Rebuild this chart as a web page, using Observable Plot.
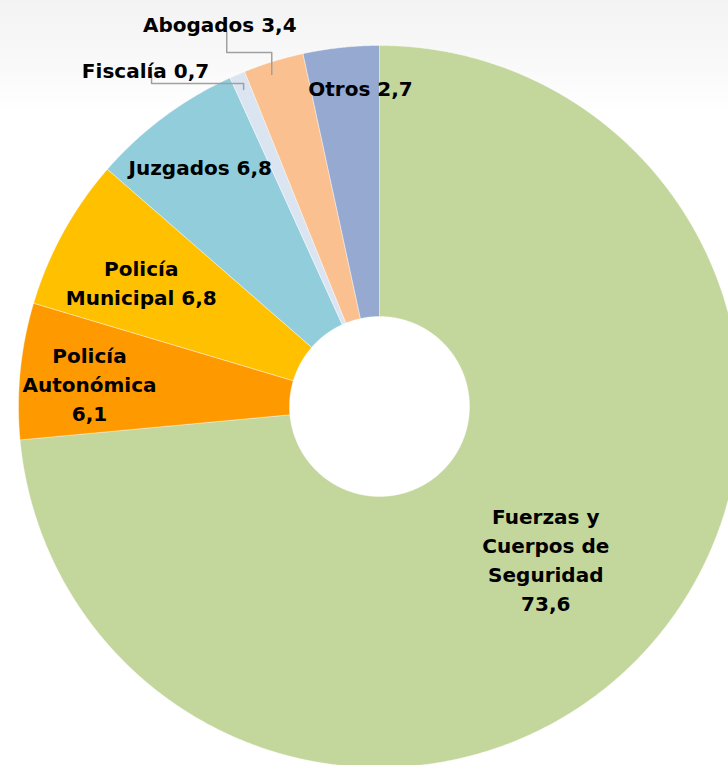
<!DOCTYPE html>
<html><head><meta charset="utf-8">
<script src="https://cdn.jsdelivr.net/npm/d3@7"></script>
<script src="https://cdn.jsdelivr.net/npm/@observablehq/plot@0.6"></script>
<style>
html,body{margin:0;padding:0;}
body{width:728px;height:765px;overflow:hidden;background:linear-gradient(to bottom,#f3f3f3 0px,#f8f8f8 55px,#ffffff 115px,#ffffff 100%);}
#chart svg{display:block;}
</style></head><body><div id="chart"></div>
<script>
// ---- data ----
const categories = ["Fuerzas y\nCuerpos de\nSeguridad", "Policía\nAutonómica", "Policía\nMunicipal", "Juzgados", "Fiscalía", "Abogados", "Otros"];
// numbers printed in the labels
const labelValues = ["73,6", "6,1", "6,8", "6,8", "0,7", "3,4", "2,7"];
const sliceValues = [73.6, 6.1, 6.8, 6.8, 0.7, 2.7, 3.4];
const colors = ["#c3d69b", "#ff9900", "#ffc000", "#92cddc", "#dbe5f1", "#fac090", "#95a9d1"];

// ---- layout (not data) ----
const W = 728, H = 765;
const cx = 379, cy = 406, R = 361, R0 = 90;
const valueSep = ["\n", "\n", " ", " ", " ", " ", " "];
const labelLayout = [
  {rad: 225, dAng: 0},
  {rad: 291, dAng: -1.0},
  {rad: 269, dAng: -1.2},
  {rad: 300, dAng: 0},
  {rad: 411, dAng: -11.5},
  {rad: 416, dAng: -5.5},
  {rad: 320, dAng: 2.7}
];
const leaderLayout = [null, null, null, null,
  {sdx: 6, sdy: 6, edy: 15, endR: 345, endAng: 0},
  {sdx: 7, sdy: 10, edy: 30, endR: 349, endAng: -0.9},
  null];

const names = categories.map(c => c.replace(/\n/g, " "));
const total = d3.sum(sliceValues);
const deg = Math.PI / 180;
const polar = (a, r) => [cx + r * Math.sin(a), cy - r * Math.cos(a)];

// slices as closed polygons
const slicePts = [];
const mids = [];
let acc = 0;
sliceValues.forEach((v, i) => {
  const a0 = acc / total * 2 * Math.PI;
  acc += v;
  const a1 = acc / total * 2 * Math.PI;
  mids.push((a0 + a1) / 2);
  const n = Math.max(2, Math.ceil((a1 - a0) / (0.25 * deg)));
  const pts = [];
  for (let k = 0; k <= n; k++) pts.push(polar(a0 + (a1 - a0) * k / n, R));
  for (let k = n; k >= 0; k--) pts.push(polar(a0 + (a1 - a0) * k / n, R0));
  pts.push(pts[0]);
  pts.forEach(([x, y]) => slicePts.push({key: names[i], x, y}));
});

// labels
const labels = categories.map((c, i) => {
  const L = labelLayout[i];
  const [x, y] = polar(mids[i] + L.dAng * deg, L.rad);
  return {key: names[i], x, y, text: c + valueSep[i] + labelValues[i]};
});

// leader lines
const leaderPts = [];
labels.forEach((l, i) => {
  const L = leaderLayout[i];
  if (!L) return;
  const [ex, ey] = polar(mids[i] + L.endAng * deg, L.endR);
  const sx = l.x + L.sdx, sy = l.y + L.sdy, ey2 = l.y + L.edy;
  [[sx, sy], [sx, ey2], [ex, ey2], [ex, ey]].forEach(([x, y]) => leaderPts.push({key: l.key, x, y}));
});

const chart = Plot.plot({
  width: W, height: H,
  margin: 0,
  style: {background: "transparent", overflow: "visible"},
  x: {domain: [0, W], range: [0, W], axis: null},
  y: {domain: [0, H], range: [0, H], axis: null},
  color: {domain: names, range: colors},
  marks: [
    Plot.line(slicePts, {x: "x", y: "y", z: "key", fill: "key", stroke: "white", strokeWidth: 0.5, strokeOpacity: 0.8, curve: "linear"}),
    Plot.line(leaderPts, {x: "x", y: "y", z: "key", stroke: "#a0a0a0", strokeWidth: 1.5}),
    Plot.text(labels, {x: "x", y: "y", text: "text", fontSize: 20, fontWeight: "bold",
      fontFamily: "DejaVu Sans", lineHeight: 1.45, fill: "#000", textAnchor: "middle", lineAnchor: "middle"})
  ]
});
document.getElementById("chart").appendChild(chart);
</script>
</body></html>
